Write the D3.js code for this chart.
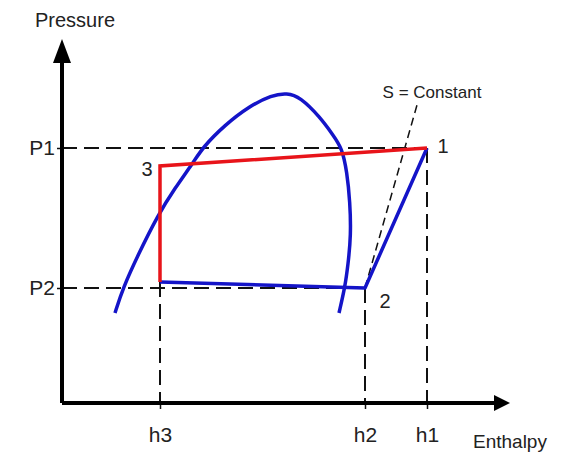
<!DOCTYPE html>
<html>
<head>
<meta charset="utf-8">
<script src="https://cdn.jsdelivr.net/npm/d3@7"></script>
<style>
  body { margin: 0; background: #fff; }
  svg text { font-family: "Liberation Sans", Arial, sans-serif; fill: #222; }
</style>
</head>
<body>
<div id="chart"></div>
<script>
// pressure / enthalpy levels (arbitrary units)
const hLevels = [24.5, 75.75, 91.25];
const hLabels = ["h3", "h2", "h1"];
const pLevels = [28.75, 63.75];
const pLabels = ["P2", "P1"];

// saturation dome
const domeH = [13.25, 15.25, 19, 24, 28.25, 32.75, 35.25, 40.75, 46.5, 52.5, 56.25,
               59.5, 64.5, 67.75, 70, 71.25, 72, 72.25, 71.5, 70.75, 69.25];
const domeP = [22.5, 28.75, 37, 47, 53.75, 60, 64, 69.5, 74, 77, 77.5,
               76.5, 71.5, 67, 63.75, 57.75, 50.25, 42, 34.5, 29, 22.5];

// cycle: condensing line (red) and compression / evaporation (blue)
const redH = [24.5, 24.5, 91.25];
const redP = [30.25, 59.25, 63.75];
const blueH = [91.25, 75.75, 24.5];
const blueP = [63.75, 28.75, 30.25];

// isentrope through point 2
const sH = [75.75, 88.75];
const sP = [28.75, 74.5];

const pointNames = ["1", "2", "3"];
const pointH = [91.25, 75.75, 24.5];
const pointP = [63.75, 28.75, 59.25];

const width = 563, height = 453;
const x = d3.scaleLinear().domain([0, 112]).range([62, 510]);
const y = d3.scaleLinear().domain([0, 91]).range([403, 39]);

const svg = d3.select("#chart").append("svg")
    .attr("width", width)
    .attr("height", height);

const zip = (hs, ps) => hs.map((h, i) => [h, ps[i]]);
const line = d3.line().x(d => x(d[0])).y(d => y(d[1]));
const smooth = d3.line().x(d => x(d[0])).y(d => y(d[1])).curve(d3.curveBasis);

// dashed guide lines
const dash = svg.append("g")
    .attr("stroke", "#111")
    .attr("stroke-width", 2)
    .attr("stroke-dasharray", "15,7")
    .attr("fill", "none");

dash.append("path").attr("d", line([[0, pLevels[1]], [hLevels[2], pLevels[1]]]));
dash.append("path").attr("d", line([[0, pLevels[0]], [hLevels[1], pLevels[0]]]));
dash.append("path").attr("d", line([[hLevels[0], redP[0]], [hLevels[0], 0]]));
dash.append("path").attr("d", line([[hLevels[1], pLevels[0]], [hLevels[1], 0]]));
dash.append("path").attr("d", line([[hLevels[2], pLevels[1]], [hLevels[2], 0]]));

svg.append("path")
    .attr("d", line(zip(sH, sP)))
    .attr("stroke", "#111")
    .attr("stroke-width", 1.5)
    .attr("stroke-dasharray", "8,5")
    .attr("fill", "none");

// dome
svg.append("path")
    .attr("d", smooth(zip(domeH, domeP)))
    .attr("stroke", "#1414c8")
    .attr("stroke-width", 3.5)
    .attr("fill", "none");

// cycle lines
svg.append("path")
    .attr("d", line(zip(blueH, blueP)))
    .attr("stroke", "#1414c8")
    .attr("stroke-width", 3.5)
    .attr("stroke-linejoin", "round")
    .attr("fill", "none");

svg.append("path")
    .attr("d", line(zip(redH, redP)))
    .attr("stroke", "#e8141a")
    .attr("stroke-width", 3.5)
    .attr("fill", "none");

// axes with tick labels
const yAxis = svg.append("g")
    .attr("transform", `translate(${x(0)},0)`)
    .call(d3.axisLeft(y).tickValues(pLevels).tickFormat((d, i) => pLabels[i]).tickSize(5).tickPadding(2));
const xAxis = svg.append("g")
    .attr("transform", `translate(0,${y(0)})`)
    .call(d3.axisBottom(x).tickValues(hLevels).tickFormat((d, i) => hLabels[i]).tickSize(6).tickPadding(18));

[yAxis, xAxis].forEach(a => {
    a.select(".domain").remove();
    a.selectAll(".tick line").attr("stroke", "#111").attr("stroke-width", 1.5);
    a.selectAll(".tick text").attr("font-size", 21).attr("fill", "#222")
        .attr("font-family", "Liberation Sans, Arial, sans-serif");
});

// axis lines + arrow heads
const ax = svg.append("g");
ax.append("path")
    .attr("d", line([[0, 0], [0, 85]]))
    .attr("stroke", "#000").attr("stroke-width", 4).attr("fill", "none");
ax.append("path")
    .attr("d", line([[0, 0], [108, 0]]))
    .attr("stroke", "#000").attr("stroke-width", 4).attr("fill", "none");
ax.append("path")
    .attr("d", `M${x(0)},${y(91)} L${x(0) - 9},${y(85)} L${x(0) + 9},${y(85)} Z`)
    .attr("fill", "#000");
ax.append("path")
    .attr("d", `M${x(112)},${y(0)} L${x(108)},${y(0) - 8} L${x(108)},${y(0) + 8} Z`)
    .attr("fill", "#000");

svg.append("text")
    .attr("x", 35).attr("y", 27)
    .attr("font-size", 20)
    .text("Pressure");

svg.append("text")
    .attr("x", 473).attr("y", 448)
    .attr("font-size", 19)
    .text("Enthalpy");

svg.append("text")
    .attr("x", x(88.75) + 15).attr("y", y(74.5) - 7)
    .attr("text-anchor", "middle")
    .attr("font-size", 17)
    .text("S = Constant");

// state point numbers
const offs = [[16, 5], [20, 20], [-13, 10]];
svg.selectAll(".pt")
    .data(pointNames)
    .enter()
    .append("text")
    .attr("class", "pt")
    .attr("x", (d, i) => x(pointH[i]) + offs[i][0])
    .attr("y", (d, i) => y(pointP[i]) + offs[i][1])
    .attr("text-anchor", "middle")
    .attr("font-size", 20)
    .text(d => d);
</script>
</body>
</html>
